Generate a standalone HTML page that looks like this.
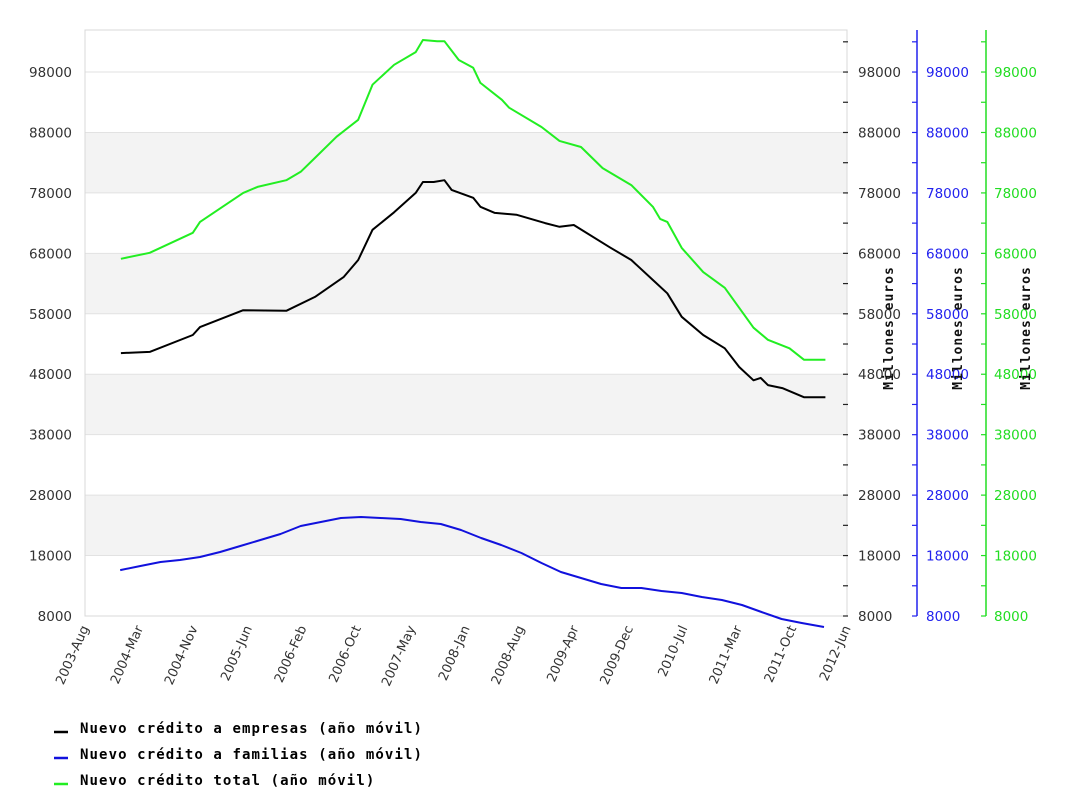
<!DOCTYPE html>
<html><head><meta charset="utf-8"><style>
html,body{margin:0;padding:0;background:#fff;}
svg{display:block;font-family:"DejaVu Sans","Liberation Sans",sans-serif;}
</style></head><body>
<svg id="chart" width="1070" height="794" viewBox="0 0 1070 794" xmlns="http://www.w3.org/2000/svg"></svg>
<script>
// month index counted from 2003-Aug (=0)
const xTickLabels = ["2003-Aug","2004-Mar","2004-Nov","2005-Jun","2006-Feb","2006-Oct","2007-May","2008-Jan","2008-Aug","2009-Apr","2009-Dec","2010-Jul","2011-Mar","2011-Oct","2012-Jun"];
const yTickValues = [8000,18000,28000,38000,48000,58000,68000,78000,88000,98000];
const empresasMonths = [5,9,15,16,22,28,32,36,38,40,43,46,47,48.5,50,51,54,55,57,60,64,66,68,73,76,79,81,83,86,89,91,93,94,95,97,100,103];
const empresasValues = [51500,51700,54500,55800,58600,58500,60800,64100,66900,71900,74800,78000,79800,79800,80100,78500,77200,75700,74700,74400,73000,72400,72700,69000,66900,63600,61400,57500,54500,52300,49200,47000,47400,46200,45700,44200,44200];
const totalMonths = [5,9,15,16,22,24,28,30,32,35,38,40,43,46,47,49,50,52,54,55,58,59,63.5,66,69,72,76,79,80,81,83,86,89,93,95,98,100,103];
const totalValues = [67100,68100,71400,73200,78000,79000,80100,81500,83800,87300,90100,95900,99200,101300,103300,103100,103100,100000,98700,96200,93400,92100,88900,86600,85600,82100,79300,75700,73700,73200,68900,64900,62300,55700,53700,52300,50400,50400];
const familiasMonths = [4.9,7.7,10.5,13.2,16,18.8,21.6,24.4,27.2,30,32.8,35.6,38.4,41.1,43.9,46.7,49.5,52.3,55.1,57.9,60.7,63.5,66.2,69,71.8,74.6,77.4,80.2,83,85.8,88.6,91.4,94.1,96.9,99.7,102.8];
const familiasValues = [15600,16270,16930,17270,17760,18590,19580,20570,21570,22890,23550,24210,24380,24210,24050,23550,23220,22230,20900,19750,18420,16770,15280,14290,13290,12630,12630,12140,11810,11140,10650,9820,8660,7500,6840,6180];

const NS="http://www.w3.org/2000/svg";
const svg=document.getElementById('chart');
const L=85,R=847,T=30,B=616,MONTHS=106;
const xs=m=>L+(m/MONTHS)*(R-L);
const ys=v=>B-(v-8000)/10000*60.44;
function mk(tag,attrs,parent){const e=document.createElementNS(NS,tag);for(const k in attrs)e.setAttribute(k,attrs[k]);(parent||svg).appendChild(e);return e;}

[[18000,28000],[38000,48000],[58000,68000],[78000,88000]].forEach(b=>{
  const r=mk('rect',{x:L,y:ys(b[1]),width:R-L,height:ys(b[0])-ys(b[1]),fill:'#f3f3f3'});
  
  
});
yTickValues.forEach(v=>{
  const g=mk('line',{x1:L,x2:R,y1:ys(v),y2:ys(v),stroke:'#e2e2e2','stroke-width':1});
  
  
  const t=mk('text',{x:72,y:ys(v)+5,'text-anchor':'end','font-size':13.5,fill:'#333'});
  t.textContent=v;
  
  
});
const frame=mk('rect',{x:L,y:T,width:R-L,height:B-T,fill:'none',stroke:'#d8d8d8'});



xTickLabels.forEach((lab,i)=>{
  const x=L+i*(R-L)/(xTickLabels.length-1);
  const t=mk('text',{x:0,y:0,'text-anchor':'end','font-size':13,fill:'#333',transform:`translate(${x+4},${B+12}) rotate(-66)`});
  t.textContent=lab;
  
  
});

const axes=[{line:null,tx:843,lx:858,color:'#222',title:893},{line:917,tx:912,lx:926,color:'#2222ee',title:962},{line:986,tx:981,lx:994,color:'#22dd22',title:1030}];
axes.forEach((a)=>{
  if(a.line){const l=mk('line',{x1:a.line,x2:a.line,y1:T,y2:B,stroke:a.color,'stroke-width':1.5});
    
    }
  for(let v=8000;v<=103000;v+=5000){
    mk('line',{x1:a.tx,x2:a.tx+5,y1:ys(v),y2:ys(v),stroke:a.color,'stroke-width':1.2});
  }
  yTickValues.forEach(v=>{
    const t=mk('text',{x:a.lx,y:ys(v)+5,'font-size':13.5,fill:a.color==='#222'?'#333':a.color});
    t.textContent=v;
    
    
  });
  const tt=mk('text',{x:0,y:0,'text-anchor':'middle','font-size':13,'font-weight':'bold','letter-spacing':1,'font-family':'"DejaVu Sans Mono",monospace',fill:'#111',transform:`translate(${a.title},${328}) rotate(-90)`});
  tt.textContent='Millones euros';
  
  
});

function series(ms,vs,color,name){
  const d=ms.map((m,i)=>(i?'L':'M')+xs(m).toFixed(1)+','+ys(vs[i]).toFixed(1)).join(' ');
  const p=mk('path',{d:d,fill:'none',stroke:color,'stroke-width':2,'stroke-linejoin':'round'});
  
  
}
series(totalMonths,totalValues,'#22ee22','line-total');
series(empresasMonths,empresasValues,'#000','line-empresas');
series(familiasMonths,familiasValues,'#1111dd','line-familias');

const leg=[['Nuevo crédito a empresas (año móvil)','#000'],['Nuevo crédito a familias (año móvil)','#1111dd'],['Nuevo crédito total (año móvil)','#22ee22']];
leg.forEach((e,i)=>{
  const y=728+i*26;
  const g=mk('g',{});
  
  
  mk('line',{x1:54,x2:68,y1:y+4,y2:y+4,stroke:e[1],'stroke-width':2.5},g);
  const t=mk('text',{x:80,y:y+5,'font-size':14,'font-weight':'bold','letter-spacing':1.1,'font-family':'"DejaVu Sans Mono",monospace',fill:'#000'},g);
  t.textContent=e[0];
});
</script>
</body></html>
